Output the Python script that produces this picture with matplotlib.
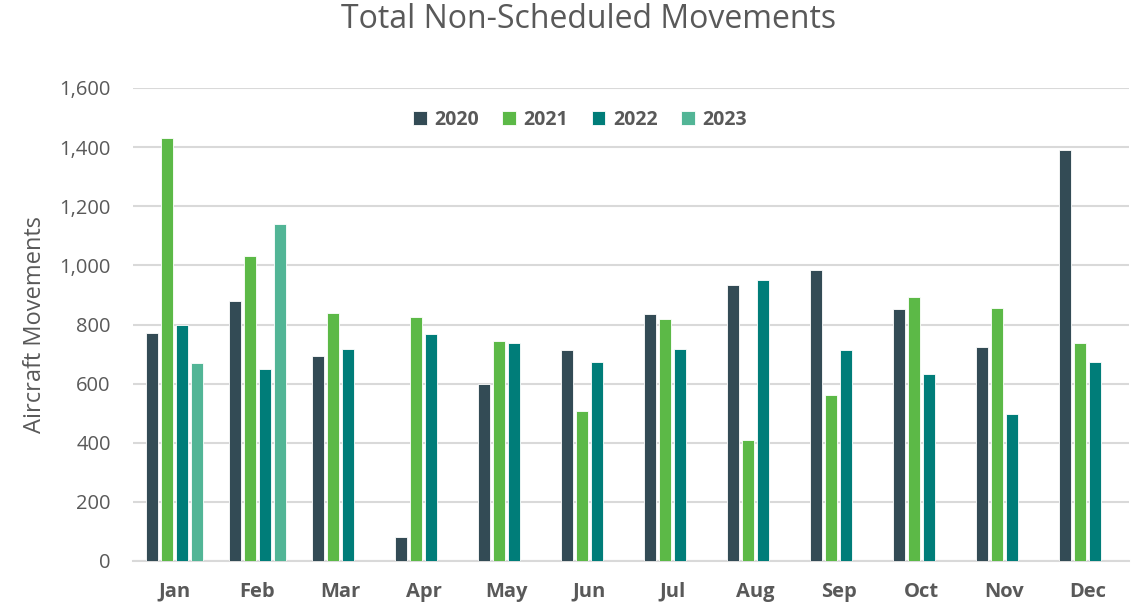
import matplotlib
matplotlib.use("Agg")
import matplotlib.pyplot as plt
import numpy as np

months = ["Jan", "Feb", "Mar", "Apr", "May", "Jun", "Jul", "Aug", "Sep", "Oct", "Nov", "Dec"]
years = ["2020", "2021", "2022", "2023"]
v2020 = [772, 881, 695, 80, 600, 713, 834, 932, 984, 851, 725, 1391]
v2021 = [1430, 1033, 838, 824, 743, 508, 820, 409, 560, 894, 855, 738]
v2022 = [798, 648, 716, 768, 738, 673, 716, 950, 713, 634, 496, 673]
v2023 = [669, 1140, None, None, None, None, None, None, None, None, None, None]
colors = ["#334B55", "#5CB947", "#007D79", "#52B596"]
yticks = [0, 200, 400, 600, 800, 1000, 1200, 1400, 1600]

plt.rcParams['font.family'] = ['Open Sans', 'DejaVu Sans']
fig = plt.figure(figsize=(11.38, 6.03), dpi=100)
ax = fig.add_axes([133/1138, 1-561/603, (1129-133)/1138, (561-88)/603])

x = np.arange(len(months))
slot = 0.18
width = 0.139
series = [v2020, v2021, v2022, v2023]
for i, (yr, vals, c) in enumerate(zip(years, series, colors)):
    xs = [xi + (i - 1.5) * slot for xi, v in zip(x, vals) if v is not None]
    ys = [v for v in vals if v is not None]
    ax.bar(xs, ys, width=width, color=c, edgecolor="white", linewidth=0.6, label=yr, zorder=3)

ax.set_xlim(-0.5, 11.5)
ax.set_ylim(0, 1600)
ax.set_yticks(yticks)
ax.set_yticklabels([f"{t:,}" for t in yticks], fontsize=14.5, color="#595959")
ax.set_xticks(x)
ax.set_xticklabels(months, fontsize=14.5, fontweight="bold", color="#595959")
ax.tick_params(axis="both", length=0)
ax.tick_params(axis="y", pad=16)
ax.tick_params(axis="x", pad=15)
ax.grid(axis="y", color="#D9D9D9", linewidth=1.5, zorder=0)
for s in ["top", "right", "left"]:
    ax.spines[s].set_visible(False)
ax.spines["bottom"].set_color("#D9D9D9")
ax.spines["bottom"].set_linewidth(1.5)
ax.set_ylabel("Aircraft Movements", fontsize=17, color="#595959", labelpad=9)

fig.text(589/1138, 1-19/603, "Total Non-Scheduled Movements", fontsize=23, color="#595959",
         ha="center", va="center")

leg = fig.legend(loc="center", bbox_to_anchor=(580/1138, 1-120/603), ncol=4, frameon=False,
                 prop={"size": 14, "weight": "bold"}, handlelength=0.7, handleheight=0.7,
                 handletextpad=0.4, columnspacing=1.2)
for t in leg.get_texts():
    t.set_color("#595959")

fig.savefig("out.png", dpi=100)
